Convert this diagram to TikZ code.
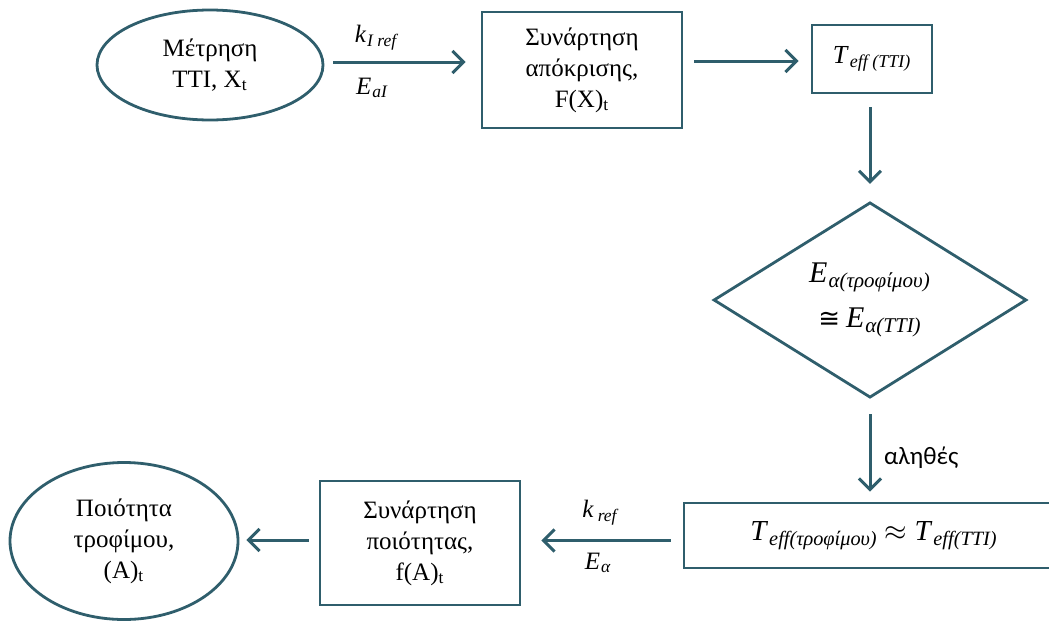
\documentclass[tikz,border=0pt]{standalone}
\usepackage{fontspec}
\setmainfont{Liberation Serif}
\newfontfamily\labelfont{Carlito}
\newfontfamily\symfont{DejaVu Sans}
\usetikzlibrary{arrows.meta,shapes.geometric,calc}
\definecolor{flow}{RGB}{47,94,108}
% italic symbol with an italic subscript
\newcommand{\isym}[2]{\textit{#1}\textsubscript{\kern0.5pt\itshape #2}}
\begin{document}
\begin{tikzpicture}[x=0.5pt,y=-0.5pt,
  every node/.style={font=\fontsize{12.5}{15.5}\selectfont, text=black},
  box/.style={draw=flow, line width=1.4pt, rectangle, align=center, inner sep=0pt},
  oval/.style={draw=flow, line width=1.4pt, ellipse, align=center, inner sep=0pt},
  decide/.style={draw=flow, line width=1.4pt, diamond, align=center, inner sep=0pt},
  arr/.style={draw=flow, line width=1.5pt, -{Straight Barb[length=5.5pt,width=11pt,line width=1.5pt]}},
  lbl/.style={font=\fontsize{12.5}{15}\selectfont}]
\useasboundingbox (0,0) rectangle (1049,621);

% nodes
\node[oval, minimum width=113pt, minimum height=55pt] (e1) at (210,65) {Μέτρηση\\TTI, X\textsubscript{t}};
\node[box, minimum width=100pt, minimum height=58pt] (b2) at (582,70) {Συνάρτηση\\απόκρισης,\\F(X)\textsubscript{t}};
\node[box, minimum width=60pt, minimum height=34pt] (b3) at (872,59) {\fontsize{13}{15}\selectfont\isym{T}{\fontsize{9}{10}\selectfont eff (TTI)}};
\node[decide, minimum width=156.5pt, minimum height=92.5pt] (d) at (870,300)
  {\fontsize{15}{19}\selectfont\isym{E}{α(τροφίμου)}\\[7pt]\fontsize{15}{19}\selectfont{\symfont\fontsize{13}{15}\selectfont ≅}\kern3pt\isym{E}{α(TTI)}};
\node[box, minimum width=190pt, minimum height=32.5pt] (b5) at (874,535.5)
  {\fontsize{14.5}{17}\selectfont\isym{T}{eff(τροφίμου)} $\approx$ \isym{T}{eff(TTI)}};
\node[box, minimum width=100pt, minimum height=62pt] (b6) at (420,543) {Συνάρτηση\\ποιότητας,\\f(A)\textsubscript{t}};
\node[oval, minimum width=114pt, minimum height=78.5pt] (e7) at (124,541) {Ποιότητα\\τροφίμου,\\(A)\textsubscript{t}};

% connectors
\draw[arr] ($(e1.east)+(9,-3)$) -- ($(e1.east -| b2.west)+(-15,-3)$);
\draw[arr] ($(b3.west -| b2.east)+(11,2)$) -- ($(b3.west)+(-12,2)$);
\draw[arr] ($(b3.south)+(-2,13)$) -- ($(d.north)+(0,-17)$);
\draw[arr] ($(d.south)+(0,15)$) -- ($(d.south |- b5.north)+(0,-10)$);
\draw[arr] ($(b5.west)+(-12,5)$) -- ($(b6.east |- b5.west)+(20,5)$);
\draw[arr] ($(b6.west)+(-10,-3)$) -- ($(e7.east)+(7,-1)$);

% connector labels
\node[lbl] (k1) at (376,38) {\isym{k}{I ref}};
\node[lbl] (a1) at (372,88) {\isym{E}{aI}};
\node[font=\labelfont\fontsize{12.5}{15}\selectfont, anchor=west] (t4) at (877,458) {αληθές};
\node[lbl] (k5) at (600,513) {\isym{k}{\,ref}};
\node[lbl] (a5) at (598,563) {\isym{E}{α}};
\end{tikzpicture}
\end{document}
